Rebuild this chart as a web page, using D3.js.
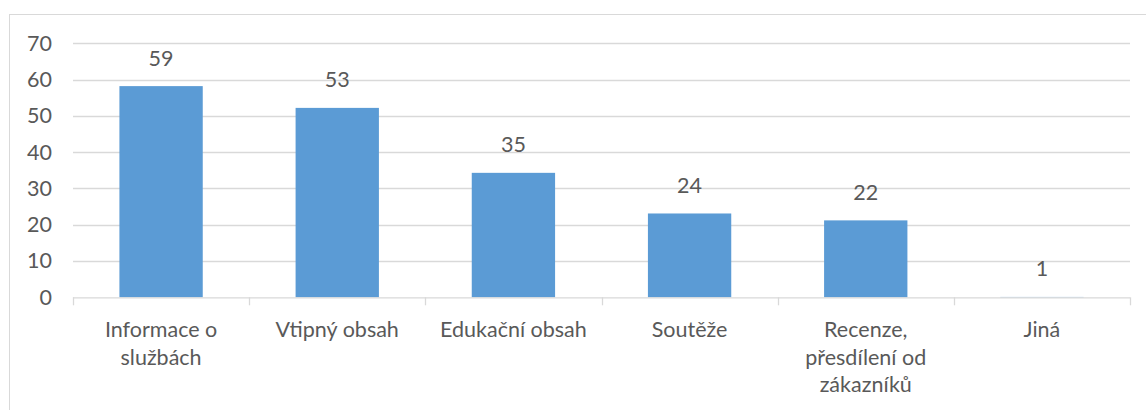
<!DOCTYPE html>
<html>
<head>
<meta charset="utf-8">
<script src="https://cdn.jsdelivr.net/npm/d3@7"></script>
<style>
  body { margin: 0; background: #fff; }
  text { font-family: Lato, "Open Sans", sans-serif; fill: #595959; }
</style>
</head>
<body>
<div id="main"></div>
<script>
'use strict'

// categories, one entry per line of the wrapped label
const categories = [
  ["Informace o", "službách"],
  ["Vtipný obsah"],
  ["Edukační obsah"],
  ["Soutěže"],
  ["Recenze,", "přesdílení od", "zákazníků"],
  ["Jiná"]
];
// bar heights
const values = [58.2, 52.2, 34.3, 23.1, 21.2, 0.1];
// data labels as printed above the bars
const labels = [59, 53, 35, 24, 22, 1];
const yTicks = [0, 10, 20, 30, 40, 50, 60, 70];

document.addEventListener('DOMContentLoaded', function(){
  drawBarChart();
});

function drawBarChart(){
  let svgWidth = 1146;
  let svgHeight = 410;
  let fontSize = "21.5px";

  let svg = d3.select('#main')
    .append('svg')
    .attr('width', svgWidth)
    .attr('height', svgHeight);

  // chart frame
  svg.append("rect")
    .attr("x", 9.5)
    .attr("y", 14.5)
    .attr("width", 1150)
    .attr("height", 420)
    .attr("fill", "none")
    .attr("stroke", "#d9d9d9");

  let left = 73, right = 1130, top = 43.3, bottom = 297.3;

  let xScale = d3.scaleBand()
    .domain(d3.range(categories.length))
    .range([left, right])
    .paddingInner(0.527)
    .paddingOuter(0.2635);

  let yScale = d3.scaleLinear()
    .domain([0, 70])
    .range([bottom, top]);

  // gridlines
  svg.append("g")
    .selectAll("line")
    .data(yTicks.filter(d => d > 0))
    .enter()
    .append("line")
    .attr("x1", left)
    .attr("x2", right)
    .attr("y1", d => Math.round(yScale(d)) + 0.5)
    .attr("y2", d => Math.round(yScale(d)) + 0.5)
    .attr("stroke", "#d9d9d9")
    .attr("stroke-width", 1.3);

  // y axis labels
  const yAxis = d3.axisLeft(yScale)
    .tickValues(yTicks)
    .tickSize(0)
    .tickPadding(0);
  let yg = svg.append("g")
    .attr("transform", "translate(52, 0)")
    .call(yAxis);
  yg.select(".domain").remove();
  yg.selectAll("text")
    .attr("font-size", fontSize)
    .style("font-family", "Lato, 'Open Sans', sans-serif")
    .attr("fill", "#595959");

  // bars
  svg.selectAll("rect.bar")
    .data(values)
    .enter()
    .append("rect")
    .attr("class", "bar")
    .attr("x", (d, i) => xScale(i))
    .attr("width", xScale.bandwidth())
    .attr("y", d => yScale(d))
    .attr("height", d => bottom - yScale(d))
    .attr("fill", "#5b9bd5");

  // data labels
  svg.selectAll("text.value")
    .data(labels)
    .enter()
    .append("text")
    .attr("class", "value")
    .attr("x", (d, i) => xScale(i) + xScale.bandwidth() / 2)
    .attr("y", (d, i) => yScale(values[i]) - 28)
    .attr("dy", "0.35em")
    .attr("text-anchor", "middle")
    .attr("font-size", fontSize)
    .text(d => d);

  // x axis line and ticks
  let step = xScale.step();
  let boundaries = d3.range(categories.length + 1).map(i => left + i * step);
  svg.append("line")
    .attr("x1", left)
    .attr("x2", right)
    .attr("y1", bottom + 0.5)
    .attr("y2", bottom + 0.5)
    .attr("stroke", "#d9d9d9")
    .attr("stroke-width", 1.3);
  svg.append("g")
    .selectAll("line")
    .data(boundaries)
    .enter()
    .append("line")
    .attr("x1", d => Math.round(d) + 0.5)
    .attr("x2", d => Math.round(d) + 0.5)
    .attr("y1", bottom)
    .attr("y2", bottom + 8)
    .attr("stroke", "#d9d9d9")
    .attr("stroke-width", 1.3);

  // category labels
  let cat = svg.append("g")
    .selectAll("text")
    .data(categories)
    .enter()
    .append("text")
    .attr("x", (d, i) => xScale(i) + xScale.bandwidth() / 2)
    .attr("y", 337)
    .attr("text-anchor", "middle")
    .attr("font-size", fontSize);
  cat.selectAll("tspan")
    .data(d => d)
    .enter()
    .append("tspan")
    .attr("x", function(){ return this.parentNode.getAttribute("x"); })
    .attr("dy", (d, i) => i === 0 ? 0 : 27.5)
    .text(d => d);
}
</script>
</body>
</html>
